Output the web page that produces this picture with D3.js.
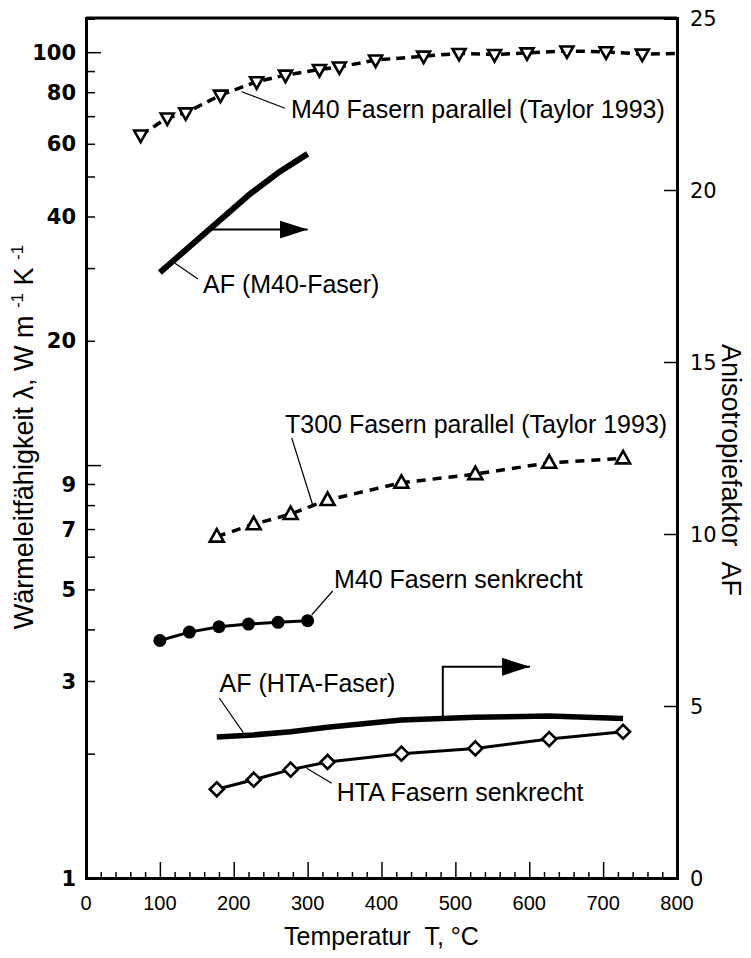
<!DOCTYPE html>
<html>
<head>
<meta charset="utf-8">
<script src="https://cdn.jsdelivr.net/npm/d3@7"></script>
<style>
  body { margin: 0; background: #fff; }
  svg { display: block; }
  text { font-family: "Liberation Sans", Arial, sans-serif; fill: #000; }
</style>
</head>
<body>
<svg id="chart" width="751" height="958"></svg>
<script>
// M40 fibres parallel (Taylor 1993), W/mK
var tempM40Par = [74, 110, 135, 182, 231, 270, 316, 343, 392, 457, 505, 553, 597, 651, 704, 753, 800];
var lamM40Par  = [63, 69.3, 71.3, 78.7, 84.8, 88, 90.8, 92.1, 95.7, 97.8, 99.3, 98.7, 99.6, 100.7, 100.2, 98.9, 99.3];

// T300 fibres parallel (Taylor 1993)
var tempT300 = [177, 227, 277, 327, 427, 527, 627, 727];
var lamT300  = [6.71, 7.19, 7.61, 8.23, 9.06, 9.51, 10.13, 10.38];

// M40 fibres perpendicular
var tempM40Senk = [100, 140, 180, 220, 260, 300];
var lamM40Senk  = [3.76, 3.94, 4.06, 4.12, 4.16, 4.20];

// HTA fibres perpendicular
var tempHTASenk = [177, 227, 277, 327, 427, 527, 627, 727];
var lamHTASenk  = [1.64, 1.73, 1.83, 1.91, 2.00, 2.06, 2.17, 2.26];

// anisotropy factor (right axis)
var tempAFM40 = [100, 140, 180, 220, 260, 300];
var afM40     = [17.6, 18.35, 19.1, 19.85, 20.5, 21.05];
var tempAFHTA = [177, 227, 277, 327, 427, 527, 627, 727];
var afHTA     = [4.10, 4.16, 4.25, 4.38, 4.59, 4.67, 4.71, 4.64];

var xTicks = [0, 100, 200, 300, 400, 500, 600, 700, 800];
var yLeftLabels = [1, 3, 5, 7, 9, 20, 40, 60, 80, 100];
var yRightTicks = [0, 5, 10, 15, 20, 25];

var svg = d3.select("#chart");
var margin = {top: 18, right: 74, bottom: 80, left: 86};
var width = 751 - margin.left - margin.right;
var height = 958 - margin.top - margin.bottom;

var g = svg.append("g")
    .attr("transform", "translate(" + margin.left + "," + margin.top + ")");

var x = d3.scaleLinear().domain([0, 800]).range([0, width]);
var y = d3.scaleLog().domain([1, 121]).range([height, 0]);
var yR = d3.scaleLinear().domain([0, 25]).range([height, 0]);

function zip(a, b) { return a.map(function(d, i) { return [d, b[i]]; }); }

// clip for data
svg.append("defs").append("clipPath").attr("id", "plotclip")
  .append("rect").attr("x", 0).attr("y", 0).attr("width", width).attr("height", height);
svg.select("defs").append("marker")
    .attr("id", "arrow")
    .attr("viewBox", "0 0 28 18")
    .attr("refX", 28).attr("refY", 9)
    .attr("markerWidth", 28).attr("markerHeight", 18)
    .attr("markerUnits", "userSpaceOnUse")
    .attr("orient", "auto")
  .append("path").attr("d", "M0,0 L28,9 L0,18 Z").attr("fill", "#000");

var plot = g.append("g").attr("clip-path", "url(#plotclip)");

var lineL = d3.line().x(function(d) { return x(d[0]); }).y(function(d) { return y(d[1]); });
var lineR = d3.line().x(function(d) { return x(d[0]); }).y(function(d) { return yR(d[1]); });

// AF curves
plot.append("path").datum(zip(tempAFM40, afM40))
    .attr("d", lineR).attr("fill", "none").attr("stroke", "#000")
    .attr("stroke-width", 6).attr("stroke-linejoin", "round");
plot.append("path").datum(zip(tempAFHTA, afHTA))
    .attr("d", lineR).attr("fill", "none").attr("stroke", "#000")
    .attr("stroke-width", 5.5).attr("stroke-linejoin", "round");

// measured lines
plot.append("path").datum(zip(tempM40Par, lamM40Par))
    .attr("d", lineL).attr("fill", "none").attr("stroke", "#000")
    .attr("stroke-width", 3.5).attr("stroke-dasharray", "9,6");
plot.append("path").datum(zip(tempT300, lamT300))
    .attr("d", lineL).attr("fill", "none").attr("stroke", "#000")
    .attr("stroke-width", 3.5).attr("stroke-dasharray", "9,7");
plot.append("path").datum(zip(tempM40Senk, lamM40Senk))
    .attr("d", lineL).attr("fill", "none").attr("stroke", "#000")
    .attr("stroke-width", 3);
plot.append("path").datum(zip(tempHTASenk, lamHTASenk))
    .attr("d", lineL).attr("fill", "none").attr("stroke", "#000")
    .attr("stroke-width", 3);

// markers
plot.selectAll(".tdown")
    .data(zip(tempM40Par, lamM40Par).filter(function(d) { return d[0] < 800; }))
    .enter().append("path")
    .attr("transform", function(d) { return "translate(" + x(d[0]) + "," + y(d[1]) + ")"; })
    .attr("d", "M-6.5,-4.5 L6.5,-4.5 L0,7 Z")
    .attr("fill", "#fff").attr("stroke", "#000").attr("stroke-width", 2.6);

plot.selectAll(".tup")
    .data(zip(tempT300, lamT300))
    .enter().append("path")
    .attr("transform", function(d) { return "translate(" + x(d[0]) + "," + y(d[1]) + ")"; })
    .attr("d", "M-7,5 L7,5 L0,-7.5 Z")
    .attr("fill", "#fff").attr("stroke", "#000").attr("stroke-width", 2.6);

plot.selectAll(".dot")
    .data(zip(tempM40Senk, lamM40Senk))
    .enter().append("circle")
    .attr("cx", function(d) { return x(d[0]); })
    .attr("cy", function(d) { return y(d[1]); })
    .attr("r", 6.5).attr("fill", "#000");

plot.selectAll(".dia")
    .data(zip(tempHTASenk, lamHTASenk))
    .enter().append("path")
    .attr("transform", function(d) { return "translate(" + x(d[0]) + "," + y(d[1]) + ")"; })
    .attr("d", "M0,-7 L7,0 L0,7 L-7,0 Z")
    .attr("fill", "#fff").attr("stroke", "#000").attr("stroke-width", 2.6);

// arrows pointing to the right axis
g.append("path")
    .attr("d", "M" + x(170) + "," + yR(18.85) + " L" + x(300) + "," + yR(18.85))
    .attr("stroke", "#000").attr("stroke-width", 2).attr("fill", "none")
    .attr("marker-end", "url(#arrow)");
g.append("path")
    .attr("d", "M" + x(483) + "," + yR(4.67) + " L" + x(483) + "," + yR(6.14) + " L" + x(601) + "," + yR(6.14))
    .attr("stroke", "#000").attr("stroke-width", 2).attr("fill", "none")
    .attr("marker-end", "url(#arrow)");

// frame and axes
g.append("line").attr("x1", 0).attr("x2", width).attr("y1", 0).attr("y2", 0)
    .attr("stroke", "#000").attr("stroke-width", 3);

var xAxis = g.append("g").attr("transform", "translate(0," + height + ")");
xAxis.call(d3.axisBottom(x).tickValues(d3.range(0, 801, 20)).tickSize(-6).tickFormat(""));
xAxis.selectAll(".tick line").filter(function(d) { return d % 100 === 0; }).attr("y2", -16);
xAxis.select(".domain").attr("stroke-width", 3);
xAxis.selectAll(".tick line").attr("stroke-width", 1.5);
xAxis.selectAll(".xl").data(xTicks).enter().append("text")
    .attr("x", function(d) { return x(d); }).attr("y", 32)
    .attr("text-anchor", "middle").style("font-size", "20px")
    .text(function(d) { return d; });

var minorL = d3.range(1, 10).concat(d3.range(10, 101, 10));
var yAxis = g.append("g");
yAxis.call(d3.axisLeft(y).tickValues(minorL).tickSize(-9).tickFormat(""));
yAxis.selectAll(".tick line").filter(function(d) { return d === 1 || d === 10 || d === 100; }).attr("x2", 15);
yAxis.select(".domain").attr("stroke-width", 3);
yAxis.selectAll(".tick line").attr("stroke-width", 1.5);
yAxis.selectAll(".yl").data(yLeftLabels).enter().append("text")
    .attr("x", -10).attr("y", function(d) { return y(d); }).attr("dy", "0.36em")
    .attr("text-anchor", "end")
    .style("font-family", "'DejaVu Sans', sans-serif").style("font-weight", "bold").style("font-size", "21px")
    .text(function(d) { return d; });

var yAxisR = g.append("g").attr("transform", "translate(" + width + ",0)");
yAxisR.call(d3.axisRight(yR).tickValues(yRightTicks).tickSize(-13).tickFormat(""));
yAxisR.select(".domain").attr("stroke-width", 3);
yAxisR.selectAll(".tick line").attr("stroke-width", 1.5);
yAxisR.selectAll(".yr").data(yRightTicks).enter().append("text")
    .attr("x", 13).attr("y", function(d) { return yR(d); }).attr("dy", "0.36em")
    .style("font-family", "'DejaVu Sans', sans-serif").style("font-size", "21px")
    .text(function(d) { return d; });

// axis titles
svg.append("text")
    .attr("x", margin.left + x(400)).attr("y", 945)
    .attr("text-anchor", "middle").style("font-size", "25px")
    .text("Temperatur\u00a0\u00a0T, °C");

var lt = svg.append("text")
    .attr("transform", "translate(33,437) rotate(-90)")
    .attr("text-anchor", "middle").style("font-size", "27px");
lt.append("tspan").text("Wärmeleitfähigkeit λ, W m\u00a0");
lt.append("tspan").attr("dy", -10).style("font-size", "17px").text("-1");
lt.append("tspan").attr("dy", 10).text("\u00a0K\u00a0");
lt.append("tspan").attr("dy", -10).style("font-size", "17px").text("-1");

svg.append("text")
    .attr("transform", "translate(722,470) rotate(90)")
    .attr("text-anchor", "middle").style("font-size", "27px")
    .text("Anisotropiefaktor\u00a0\u00a0AF");

// annotations with leader lines (page pixels)
var notes = [
  {t: "M40 Fasern parallel (Taylor 1993)", tx: 291, ty: 118, l: [[241.7, 91.7], [285, 108.3]]},
  {t: "AF (M40-Faser)", tx: 203, ty: 293, l: [[175, 263.3], [198, 279]]},
  {t: "T300 Fasern parallel (Taylor 1993)", tx: 285, ty: 433, l: [[291.7, 438], [312.7, 505], [307, 507]]},
  {t: "M40 Fasern senkrecht", tx: 334, ty: 588, l: [[332.7, 591], [311.7, 615]]},
  {t: "AF (HTA-Faser)", tx: 219.5, ty: 692, l: [[219.3, 698], [243.3, 732.7]]},
  {t: "HTA Fasern senkrecht", tx: 336.7, ty: 801, l: [[306.7, 768.3], [331.7, 783.3]]}
];
notes.forEach(function(n) {
  svg.append("path").attr("d", d3.line()(n.l))
      .attr("fill", "none").attr("stroke", "#000").attr("stroke-width", 1.2);
  svg.append("text").attr("x", n.tx).attr("y", n.ty)
      .style("font-size", "25px").text(n.t);
});
</script>
</body>
</html>
